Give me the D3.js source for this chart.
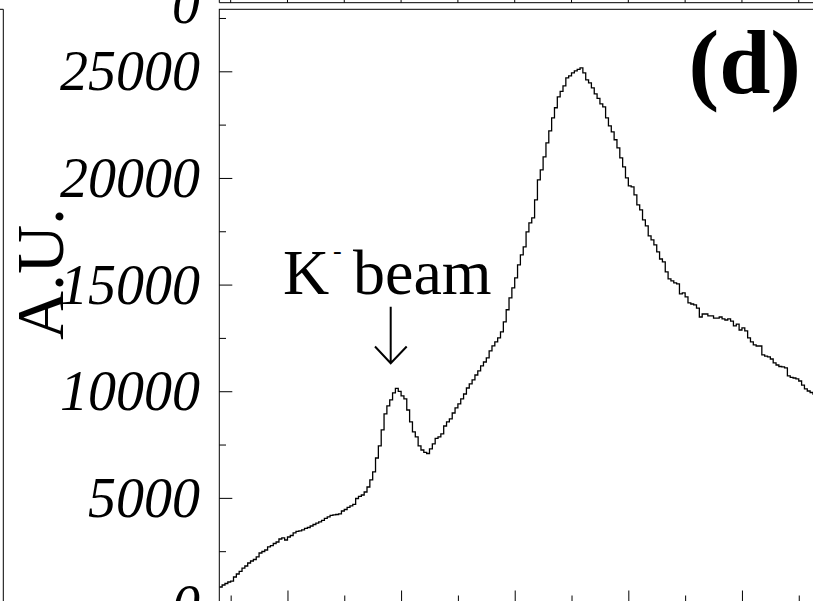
<!DOCTYPE html>
<html>
<head>
<meta charset="utf-8">
<script src="https://cdn.jsdelivr.net/npm/d3@7/dist/d3.min.js"></script>
<style>
  html, body { margin: 0; padding: 0; background: #fff; }
  svg { display: block; }
  text { font-family: "Liberation Serif", "Times New Roman", serif; fill: #000; }
</style>
</head>
<body>
<svg id="chart" width="813" height="601"></svg>
<script>
// ---- data ----
const binStart = -4;           // low edge of first bin (axis units)
const binWidth = 1;
const binValues = [
  820, 915, 985, 1055, 1100, 1290, 1430, 1550, 1710, 1805,
  1945, 2040, 2110, 2230, 2415, 2485, 2555, 2700, 2765, 2860,
  2930, 3070, 3120, 3025, 3165, 3235, 3355, 3425, 3450, 3495,
  3565, 3610, 3680, 3750, 3820, 3870, 3940, 4035, 4105, 4175,
  4200, 4220, 4245, 4385, 4455, 4550, 4620, 4690, 4970, 5065,
  5135, 5275, 5510, 5840, 6215, 6870, 7435, 8185, 8935, 9310,
  9590, 9920, 10130, 9990, 9780, 9640, 9120, 8560, 8090, 7855,
  7435, 7245, 7130, 7080, 7295, 7530, 7785, 7855, 8000, 8370,
  8560, 8700, 8980, 9215, 9405, 9640, 9870, 10150, 10340, 10530,
  10760, 10950, 11185, 11370, 11560, 11890, 12125, 12310, 12500, 12780,
  13250, 13820, 14375, 14845, 15315, 15920, 16390, 16770, 17470, 17890,
  18130, 18970, 19910, 20380, 20990, 21640, 22210, 22820, 23290, 23800,
  24060, 24320, 24690, 24790, 24930, 25020, 25090, 25160, 24930, 24600,
  24460, 24220, 23940, 23730, 23470, 23330, 22820, 22440, 22160, 21790,
  21410, 20940, 20520, 20000, 19630, 19580, 19210, 18740, 18500, 18030,
  17750, 17280, 17100, 16860, 16530, 16200, 16060, 15600, 15270, 15170,
  15080, 15030, 14560, 14610, 14420, 14140, 14090, 14045, 13900, 13480,
  13620, 13620, 13530, 13530, 13430, 13430, 13480, 13390, 13340, 13390,
  13290, 13060, 13150, 12870, 12970, 12830, 12500, 12310, 12170, 12120,
  12120, 11700, 11650, 11610, 11510, 11330, 11230, 11160, 11140, 11090,
  10720, 10650, 10620, 10580, 10480, 10290, 10110, 10010, 9940, 9870
];
const xTicksMajor = [20, 60, 100, 140, 180];
const xTicksMinor = [0, 40, 80, 120, 160, 200];
const yTickLabels = [0, 5000, 10000, 15000, 20000, 25000];
const yTicksMinor = [2500, 7500, 12500, 17500, 22500, 27500];
const upperPanelLabels = ["0"];
const yAxisTitle = "A.U.";
const panelLabel = "(d)";
const annotation = { main: "K", sup: "-", rest: "beam" };

// ---- layout ----
const svg = d3.select("#chart");
const frameLeft = 219.3, frameTop = 9.3, frameBottom = 604.5, frameRight = 830;
const x = d3.scaleLinear().domain([-4, 211]).range([frameLeft, frameRight]);
const y = d3.scaleLinear().domain([0, 27907]).range([frameBottom, frameTop]);

// left neighbour panel edge
svg.append("path")
  .attr("d", `M-5,${frameTop}H3.3V610`)
  .attr("fill", "none").attr("stroke", "#000").attr("stroke-width", 1);

// upper neighbour panel bottom axis
const upperAxisY = 2.7;
svg.append("path")
  .attr("d", `M${frameLeft},-5V${upperAxisY}H${frameRight}`)
  .attr("fill", "none").attr("stroke", "#000").attr("stroke-width", 1);
svg.append("g").selectAll("line")
  .data(xTicksMajor.concat(xTicksMinor))
  .join("line")
  .attr("x1", d => x(d)).attr("x2", d => x(d))
  .attr("y1", upperAxisY).attr("y2", -10)
  .attr("stroke", "#000").attr("stroke-width", 1);
svg.append("g").selectAll("text")
  .data(upperPanelLabels)
  .join("text")
  .attr("x", 200).attr("y", upperAxisY + 1.5 + 19)
  .attr("text-anchor", "end")
  .attr("font-size", 56).attr("font-style", "italic")
  .text(d => d);

// frame
svg.append("rect")
  .attr("x", frameLeft).attr("y", frameTop)
  .attr("width", frameRight - frameLeft).attr("height", frameBottom - frameTop)
  .attr("fill", "none").attr("stroke", "#000").attr("stroke-width", 1);

// y axis ticks
const yAxisMajor = d3.axisRight(y).tickValues(yTickLabels).tickSize(13).tickFormat("");
const yAxisMinor = d3.axisRight(y).tickValues(yTicksMinor).tickSize(6.7).tickFormat("");
[yAxisMajor, yAxisMinor].forEach(ax => {
  const g = svg.append("g").attr("transform", `translate(${frameLeft},0)`).call(ax);
  g.select(".domain").remove();
  g.selectAll("line").attr("stroke", "#000");
});
// y tick labels
svg.append("g").selectAll("text")
  .data(yTickLabels)
  .join("text")
  .attr("x", 200).attr("y", d => y(d) + 19)
  .attr("text-anchor", "end")
  .attr("font-size", 56).attr("font-style", "italic")
  .text(d => d);

// x axis ticks (bottom)
const xAxisMajor = d3.axisTop(x).tickValues(xTicksMajor).tickSize(14).tickFormat("");
const xAxisMinor = d3.axisTop(x).tickValues(xTicksMinor).tickSize(9).tickFormat("");
[xAxisMajor, xAxisMinor].forEach(ax => {
  const g = svg.append("g").attr("transform", `translate(0,${frameBottom})`).call(ax);
  g.select(".domain").remove();
  g.selectAll("line").attr("stroke", "#000");
});

// histogram
svg.append("clipPath").attr("id", "clip")
  .append("rect").attr("x", frameLeft).attr("y", frameTop)
  .attr("width", frameRight - frameLeft).attr("height", frameBottom - frameTop);
const pts = binValues.map((v, i) => [binStart + i * binWidth, v]);
pts.push([binStart + binValues.length * binWidth, binValues[binValues.length - 1]]);
const line = d3.line().x(d => x(d[0])).y(d => y(d[1])).curve(d3.curveStepAfter);
svg.append("path")
  .attr("clip-path", "url(#clip)")
  .attr("d", line(pts))
  .attr("fill", "none").attr("stroke", "#000").attr("stroke-width", 1.3);

// y axis title
svg.append("text")
  .attr("transform", "translate(63,274) rotate(-90)")
  .attr("text-anchor", "middle")
  .attr("font-size", 68)
  .text(yAxisTitle);

// panel label
svg.append("text")
  .attr("x", 801).attr("y", 93)
  .attr("text-anchor", "end")
  .attr("font-size", 92).attr("font-weight", "bold")
  .text(panelLabel);

// annotation
const ann = svg.append("text").attr("font-size", 64);
ann.append("tspan").attr("x", 283).attr("y", 294.3).text(annotation.main);
ann.append("tspan").attr("x", 333).attr("y", 259).attr("font-size", 26).text(annotation.sup);
ann.append("tspan").attr("x", 353).attr("y", 294.3).text(annotation.rest);

// arrow
svg.append("path")
  .attr("d", "M390.7,306.7V363 M375,346.5L390.7,363.3L406.7,346.5")
  .attr("fill", "none").attr("stroke", "#000").attr("stroke-width", 2);
</script>
</body>
</html>
